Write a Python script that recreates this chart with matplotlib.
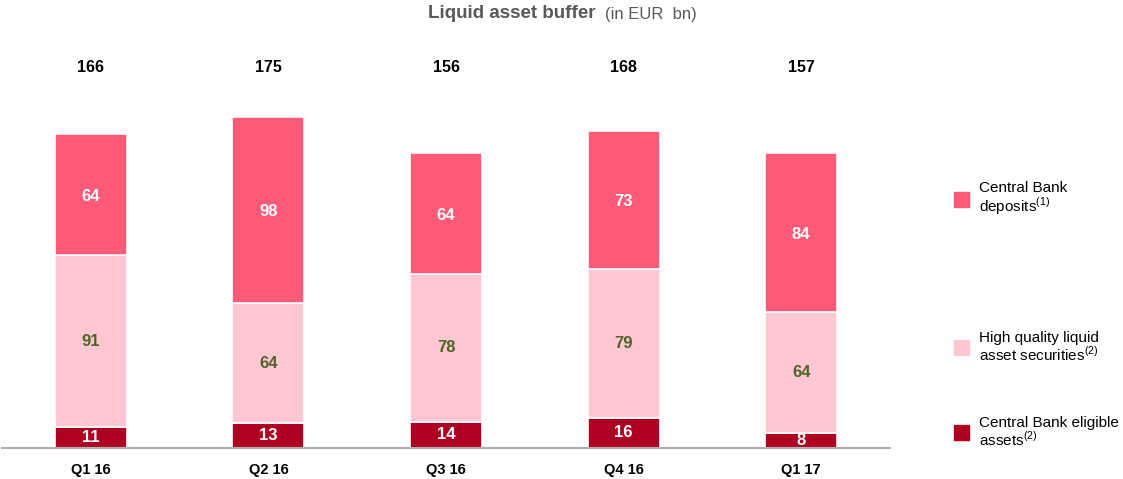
import matplotlib.pyplot as plt
from matplotlib.patches import Rectangle

plt.rcParams['font.family'] = ['Liberation Sans', 'DejaVu Sans']
plt.rcParams['mathtext.fontset'] = 'custom'
plt.rcParams['mathtext.rm'] = 'Liberation Sans'

quarters = ["Q1 16", "Q2 16", "Q3 16", "Q4 16", "Q1 17"]
eligible = [11, 13, 14, 16, 8]
hqla = [91, 64, 78, 79, 64]
deposits = [64, 98, 64, 73, 84]
totals = [166, 175, 156, 168, 157]

c_dep = "#FF5A78"
c_hqla = "#FFC7D1"
c_elig = "#AE0021"

fig = plt.figure(figsize=(11.23, 4.79), dpi=100)
# axes placed in pixels: baseline at y=448 from top, x from 2 to 890
ax = fig.add_axes([2 / 1123, 31 / 479, 888 / 1123, 340 / 479])
x = list(range(len(quarters)))
w = 0.405

ax.bar(x, eligible, w, color=c_elig, edgecolor="white", linewidth=1.2)
ax.bar(x, hqla, w, bottom=eligible, color=c_hqla, edgecolor="white", linewidth=1.2)
bottom2 = [a + b for a, b in zip(eligible, hqla)]
ax.bar(x, deposits, w, bottom=bottom2, color=c_dep, edgecolor="white", linewidth=1.2)

for i in x:
    ax.text(i, eligible[i] / 2, str(eligible[i]), ha="center", va="center",
            color="white", fontweight="bold", fontsize=12)
    ax.text(i, eligible[i] + hqla[i] / 2, str(hqla[i]), ha="center", va="center",
            color="#4F6228", fontweight="bold", fontsize=12)
    ax.text(i, bottom2[i] + deposits[i] / 2 - 1, str(deposits[i]), ha="center", va="center",
            color="white", fontweight="bold", fontsize=12)
    ax.text(i, 201.5, str(totals[i]), ha="center", va="center", color="black",
            fontweight="bold", fontsize=11.5, clip_on=False)

ax.set_xlim(-0.5, 4.5)
ax.set_ylim(0, 180)
ax.set_xticks(x)
ax.set_xticklabels(quarters, fontweight="bold", fontsize=10.5)
ax.tick_params(axis="x", length=0, pad=11)
ax.set_yticks([])
for s in ["top", "right", "left"]:
    ax.spines[s].set_visible(False)
ax.spines["bottom"].set_color("#B5AEAE")
ax.spines["bottom"].set_linewidth(1.5)

# title
fig.text(428 / 1123, 1 - 14 / 479, "Liquid asset buffer", ha="left", va="center",
         fontsize=13.5, color="#595959", fontweight="bold")
fig.text(605 / 1123, 1 - 14 / 479, "(in EUR  bn)", ha="left", va="center",
         fontsize=12, color="#595959")

# legend
legend_items = [
    (c_dep, "Central Bank\ndeposits$^{(1)}$", 199),
    (c_hqla, "High quality liquid\nasset securities$^{(2)}$", 347),
    (c_elig, "Central Bank eligible\nassets$^{(2)}$", 432),
]
for col, label, yc in legend_items:
    fig.patches.append(Rectangle((954 / 1123, 1 - (yc + 7.5) / 479), 15 / 1123, 15 / 479,
                                 transform=fig.transFigure, color=col, figure=fig))
    fig.text(979 / 1123, 1 - yc / 479, label, ha="left", va="center",
             fontsize=11, color="black", linespacing=1.0)

fig.savefig("out.png", dpi=100)
